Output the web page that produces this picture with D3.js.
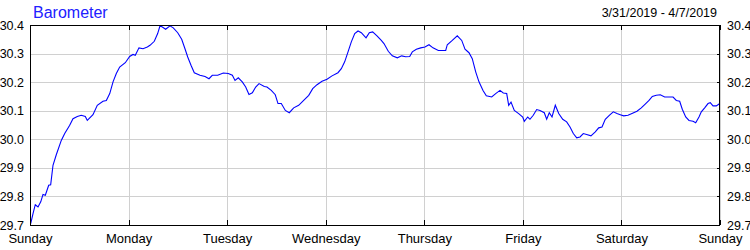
<!DOCTYPE html>
<html>
<head>
<meta charset="utf-8">
<script src="https://cdn.jsdelivr.net/npm/d3@7"></script>
<style>
  body { margin: 0; background: #fff; }
  svg { display: block; font-family: "Liberation Sans", Arial, sans-serif; }
  .grid line { stroke: #d0d0d0; stroke-width: 1; shape-rendering: crispEdges; }
  .axis path { display: none; }
  .axis line { stroke: #000; shape-rendering: crispEdges; }
  .axis text { font-size: 13px; fill: #000; font-family: "Liberation Sans", Arial, sans-serif; }
  .yaxis text { font-size: 12.5px; }
</style>
</head>
<body>
<svg id="chart" width="750" height="250"></svg>
<script>
const title = "Barometer";
const dateRange = "3/31/2019 - 4/7/2019";
const startDate = new Date(2019, 2, 31);
const endDate = new Date(2019, 3, 7);

// hours since Sunday 0:00
const hours = [
  0.17, 0.73, 1.29, 1.95, 2.61, 3.17, 3.73, 4.55, 5.04, 5.6, 6.4, 7.62, 8.45, 9.67, 10.47, 11.52,
  12.49, 13.46, 13.95, 15.34, 16.39, 17.77, 18.58, 19.41, 20.21, 21.01, 21.84, 23.2, 24.27, 25.08,
  25.64, 26.54, 27.51, 28.56, 29.22, 30.26, 31.09, 31.65, 32.21, 33.04, 34.09, 34.89, 35.96, 36.94,
  37.74, 38.4, 39.2, 40.0, 41.39, 42.61, 43.58, 44.39, 45.7, 47.06, 48.28, 49.26, 49.91, 50.72,
  51.69, 52.52, 53.32, 54.13, 54.95, 55.76, 57.05, 57.7, 58.75, 59.72, 60.38, 61.19, 62.16, 63.13,
  64.2, 65.42, 66.64, 67.86, 68.83, 69.88, 71.1, 72.31, 73.53, 74.99, 75.8, 76.62, 77.43, 78.23,
  79.06, 79.86, 80.67, 81.81, 82.62, 83.44, 84.49, 85.53, 86.19, 87.24, 88.21, 89.43, 90.5, 91.47,
  92.45, 93.08, 94.06, 95.13, 96.17, 97.15, 98.12, 99.41, 101.21, 101.6, 102.82, 104.04, 105.11,
  105.91, 106.89, 107.69, 108.52, 109.32, 110.3, 111.1, 112.41, 113.39, 114.43, 115.24, 116.06,
  116.55, 117.11, 117.92, 118.99, 119.96, 120.35, 121.18, 121.74, 122.54, 123.37, 124.17, 125.22,
  125.8, 126.44, 127.1, 127.9, 128.73, 129.7, 130.67, 131.48, 132.28, 133.11, 133.91, 134.72,
  135.54, 136.59, 137.64, 138.47, 139.27, 140.07, 141.05, 142.02, 142.92, 143.72, 144.55, 145.6,
  146.57, 147.79, 148.84, 149.91, 150.71, 151.52, 152.49, 153.46, 154.53, 155.58, 156.56, 157.36,
  158.19, 158.82, 159.65, 160.45, 161.43, 162.08, 162.89, 163.45, 164.27, 165.08, 165.64, 166.3,
  167.1, 167.93
];

// inches of mercury
const pressure = [
  29.705, 29.740, 29.771, 29.763, 29.781, 29.807, 29.804, 29.839, 29.841, 29.909, 29.946, 29.996,
  30.020, 30.049, 30.072, 30.080, 30.084, 30.080, 30.066, 30.086, 30.119, 30.133, 30.136, 30.160,
  30.201, 30.230, 30.253, 30.268, 30.290, 30.297, 30.294, 30.320, 30.317, 30.323, 30.329, 30.343,
  30.370, 30.397, 30.393, 30.385, 30.397, 30.390, 30.373, 30.350, 30.317, 30.288, 30.259, 30.233,
  30.224, 30.220, 30.212, 30.224, 30.224, 30.232, 30.230, 30.224, 30.206, 30.215, 30.201, 30.183,
  30.157, 30.163, 30.183, 30.195, 30.185, 30.183, 30.171, 30.156, 30.125, 30.125, 30.101, 30.093,
  30.110, 30.119, 30.136, 30.154, 30.177, 30.191, 30.203, 30.210, 30.222, 30.233, 30.247, 30.271,
  30.306, 30.341, 30.370, 30.379, 30.373, 30.355, 30.373, 30.376, 30.362, 30.346, 30.335, 30.308,
  30.292, 30.285, 30.292, 30.289, 30.290, 30.306, 30.315, 30.320, 30.323, 30.331, 30.320, 30.311,
  30.311, 30.331, 30.346, 30.362, 30.346, 30.315, 30.303, 30.282, 30.236, 30.201, 30.171, 30.152,
  30.148, 30.160, 30.171, 30.162, 30.160, 30.119, 30.130, 30.101, 30.090, 30.078, 30.063, 30.078,
  30.070, 30.084, 30.104, 30.101, 30.093, 30.070, 30.093, 30.078, 30.119, 30.090, 30.070, 30.061,
  30.043, 30.020, 30.005, 30.008, 30.020, 30.017, 30.012, 30.026, 30.040, 30.043, 30.070, 30.084,
  30.096, 30.090, 30.086, 30.082, 30.084, 30.090, 30.098, 30.110, 30.125, 30.136, 30.150, 30.154,
  30.156, 30.148, 30.148, 30.148, 30.136, 30.133, 30.105, 30.078, 30.066, 30.063, 30.058, 30.078,
  30.096, 30.110, 30.125, 30.128, 30.117, 30.117, 30.125
];

const yTicks = [29.7, 29.8, 29.9, 30.0, 30.1, 30.2, 30.3, 30.4];

const plot = { left: 30, right: 720, top: 25, bottom: 225 };

const svg = d3.select("#chart");

const x = d3.scaleTime().domain([startDate, endDate]).range([plot.left, plot.right]);
const y = d3.scaleLinear().domain([29.7, 30.4]).range([plot.bottom, plot.top]);
const days = d3.timeDay.range(startDate, d3.timeDay.offset(endDate, 1));

// grid
const grid = svg.append("g").attr("class", "grid");
grid.selectAll(".h").data(yTicks).join("line")
  .attr("x1", plot.left).attr("x2", plot.right)
  .attr("y1", d => Math.round(y(d)) + 0.5).attr("y2", d => Math.round(y(d)) + 0.5);
grid.selectAll(".v").data(days).join("line")
  .attr("y1", plot.top).attr("y2", plot.bottom)
  .attr("x1", d => Math.round(x(d)) + 0.5).attr("x2", d => Math.round(x(d)) + 0.5);

// line
const points = hours.map((h, i) => [d3.timeMinute.offset(startDate, Math.round(h * 60)), pressure[i]]);
const line = d3.line().x(d => x(d[0])).y(d => y(d[1]));
svg.append("path")
  .datum(points)
  .attr("d", line)
  .attr("fill", "none")
  .attr("stroke", "#0000ff")
  .attr("stroke-width", 1.1);

// frame
svg.append("rect")
  .attr("x", plot.left + 0.5).attr("y", plot.top + 0.5)
  .attr("width", plot.right - plot.left - 1).attr("height", plot.bottom - plot.top)
  .attr("fill", "none").attr("stroke", "#000").attr("shape-rendering", "crispEdges");

// axes
svg.append("g").attr("class", "axis")
  .attr("transform", `translate(0,${plot.bottom})`)
  .call(d3.axisBottom(x).tickValues(days).tickFormat(d3.timeFormat("%A")).tickSizeInner(-5).tickSizeOuter(0).tickPadding(9));

svg.append("g").attr("class", "axis")
  .attr("transform", `translate(0,${plot.top})`)
  .call(d3.axisTop(x).tickValues(days).tickFormat("").tickSizeInner(-5).tickSizeOuter(0));

svg.append("g").attr("class", "axis yaxis")
  .attr("transform", `translate(${plot.left},0)`)
  .call(d3.axisLeft(y).tickValues(yTicks).tickFormat(d3.format(".1f")).tickSize(0).tickPadding(6));

svg.append("g").attr("class", "axis yaxis")
  .attr("transform", `translate(${plot.right},0)`)
  .call(d3.axisRight(y).tickValues(yTicks).tickFormat(d3.format(".1f")).tickSizeInner(-3).tickSizeOuter(0).tickPadding(7));

// titles
svg.append("text")
  .attr("x", 33).attr("y", 17.5)
  .attr("fill", "#2020ff")
  .style("font-size", "16px")
  .text(title);

svg.append("text")
  .attr("x", 717).attr("y", 17)
  .attr("text-anchor", "end")
  .attr("fill", "#000")
  .style("font-size", "12.5px")
  .text(dateRange);
</script>
</body>
</html>
